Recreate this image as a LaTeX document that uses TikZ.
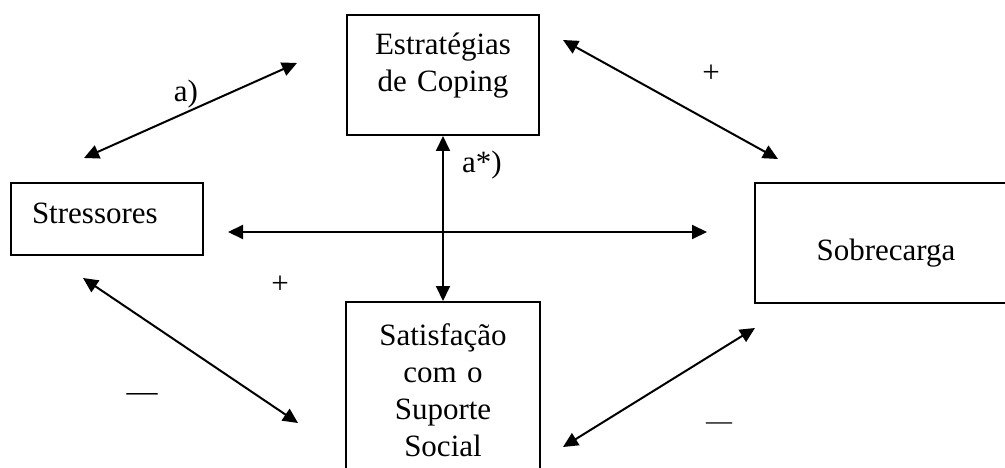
\documentclass[tikz,border=0pt]{standalone}
\usepackage{fontspec}
\setmainfont{Liberation Serif}
\usetikzlibrary{arrows.meta}
\begin{document}
\begin{tikzpicture}[x=1pt,y=-1pt,
  box/.style={draw, line width=2pt, inner sep=0pt, align=center,
    font=\fontsize{31}{37}\selectfont},
  lbl/.style={inner sep=0pt, font=\fontsize{31}{37}\selectfont},
  conn/.style={line width=2pt, {Triangle[length=15pt,width=14pt]}-{Triangle[length=15pt,width=14pt]}}]
\useasboundingbox (0,0) rectangle (1005,468);
\clip (0,0) rectangle (1005,468);
% boxes
\node[box, minimum width=192pt, minimum height=120pt, text width=192pt,
  text height=22pt, text depth=62pt] (est) at (443,75) {Estratégias\\de Coping};
\node[box, minimum width=192pt, minimum height=72pt, text width=150pt,
  inner xsep=21pt, align=left, text height=22pt, text depth=12pt] (str) at (107,219) {Stressores};
\node[box, minimum width=262pt, minimum height=120pt, text width=262pt,
  text height=40pt, text depth=4pt] (sob) at (886,243) {Sobrecarga};
\node[box, minimum width=194pt, minimum height=188pt, text width=194pt,
  text height=22pt, text depth=124pt] (sat) at (443,396) {Satisfação\\com o\\Suporte\\Social};
% free ends
\coordinate (a1) at (84,158);
\coordinate (a2) at (297,63);
\coordinate (b1) at (563,40);
\coordinate (b2) at (778,159);
\coordinate (h1) at (228,232);
\coordinate (h2) at (707,232);
\coordinate (c1) at (83,278);
\coordinate (c2) at (298,423);
\coordinate (d1) at (563,447);
\coordinate (d2) at (755,328);
% connectors
\draw[conn] (a1) -- (a2);
\draw[conn] (b1) -- (b2);
\draw[conn] (est.south) -- (sat.north);
\draw[conn] (h1) -- (h2);
\draw[conn] (c1) -- (c2);
\draw[conn] (d1) -- (d2);
% labels
\node[lbl, anchor=base] (la) at (186,102) {a)};
\node[lbl, anchor=base] (las) at (482,173) {a*)};
\node[lbl] (lp1) at (711,74) {+};
\node[lbl] (lp2) at (280,285) {+};
\node[lbl, anchor=base] (lm1) at (142,401) {—};
\node[lbl, anchor=base, font=\fontsize{26}{30}\selectfont] (lm2) at (719,429) {—};
\end{tikzpicture}
\end{document}
